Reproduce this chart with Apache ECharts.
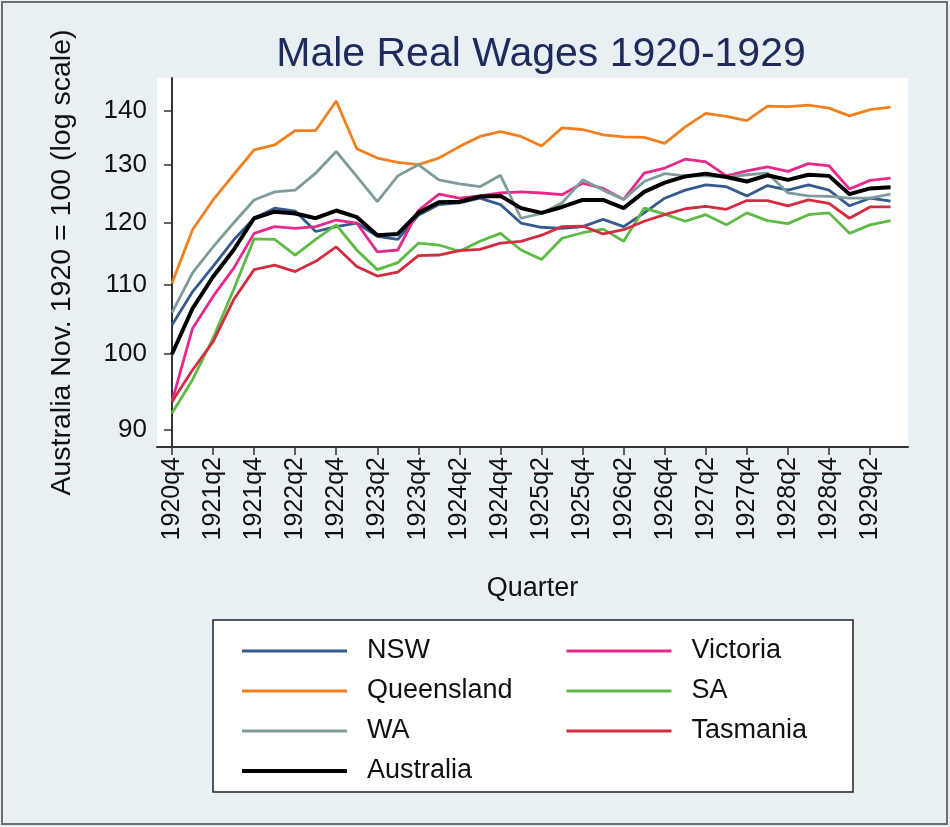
<!DOCTYPE html>
<html>
<head>
<meta charset="utf-8">
<title>Male Real Wages 1920-1929</title>
<script src="https://cdn.jsdelivr.net/npm/echarts@6/dist/echarts.min.js"></script>
<style>
  html, body { margin: 0; padding: 0; background: #e9f0f3; }
  #chart { width: 950px; height: 827px; }
</style>
</head>
<body>
<div id="chart"></div>
<script>
// quarters 1920q4 .. 1929q3
var quarters = ['1920q4',
  '1921q1', '1921q2', '1921q3', '1921q4',
  '1922q1', '1922q2', '1922q3', '1922q4',
  '1923q1', '1923q2', '1923q3', '1923q4',
  '1924q1', '1924q2', '1924q3', '1924q4',
  '1925q1', '1925q2', '1925q3', '1925q4',
  '1926q1', '1926q2', '1926q3', '1926q4',
  '1927q1', '1927q2', '1927q3', '1927q4',
  '1928q1', '1928q2', '1928q3', '1928q4',
  '1929q1', '1929q2', '1929q3'];

// tick labels
var xTickIdx = [0, 2, 4, 6, 8, 10, 12, 14, 16, 18, 20, 22, 24, 26, 28, 30, 32, 34];
var yTicks = [90, 100, 110, 120, 130, 140];

// index numbers, Australia Nov. 1920 = 100
var nsw = [104.1, 109.0, 112.9, 117.1, 120.7, 122.4, 121.9, 118.5, 119.3, 119.9, 117.7, 117.2,
  121.2, 123.0, 123.3, 124.1, 123.0, 119.9, 119.2, 119.0, 119.3, 120.5, 119.3, 121.6,
  124.1, 125.5, 126.4, 126.1, 124.5, 126.3, 125.5, 126.4, 125.5, 122.8, 124.1, 123.6];
var victoria = [93.6, 103.6, 108.3, 112.6, 118.2, 119.3, 119.0, 119.3, 120.4, 119.9, 115.2, 115.5,
  122.0, 124.8, 124.1, 124.5, 125.0, 125.2, 125.0, 124.7, 126.7, 125.8, 123.9, 128.5,
  129.4, 131.0, 130.5, 128.0, 128.9, 129.6, 128.8, 130.2, 129.8, 125.7, 127.2, 127.6];
var queensland = [110.3, 118.8, 123.8, 128.2, 132.7, 133.6, 136.3, 136.3, 142.0, 132.9, 131.2, 130.4,
  130.0, 131.2, 133.3, 135.2, 136.1, 135.2, 133.4, 136.8, 136.5, 135.5, 135.1, 135.0,
  133.9, 137.0, 139.6, 139.0, 138.2, 141.0, 140.9, 141.2, 140.6, 139.1, 140.3, 140.8];
var sa = [92.1, 96.5, 102.2, 109.3, 117.3, 117.2, 114.7, 117.2, 119.6, 115.5, 112.4, 113.5,
  116.6, 116.3, 115.3, 116.9, 118.2, 115.5, 114.0, 117.4, 118.3, 118.9, 116.9, 122.4,
  121.4, 120.2, 121.3, 119.6, 121.6, 120.3, 119.8, 121.3, 121.6, 118.2, 119.6, 120.3];
var wa = [105.9, 111.9, 116.0, 119.9, 123.8, 125.2, 125.5, 128.5, 132.4, 127.9, 123.5, 128.0,
  130.0, 127.3, 126.6, 126.1, 128.1, 120.7, 121.5, 123.3, 127.3, 125.5, 123.9, 127.0,
  128.4, 128.0, 128.0, 127.8, 128.2, 128.5, 125.0, 124.5, 124.4, 124.1, 124.1, 124.8];
var tasmania = [93.6, 97.8, 101.7, 107.8, 112.4, 113.1, 112.1, 113.7, 116.0, 112.9, 111.4, 112.0,
  114.6, 114.7, 115.4, 115.6, 116.6, 116.9, 117.9, 119.3, 119.4, 118.1, 118.8, 120.2,
  121.3, 122.3, 122.7, 122.2, 123.7, 123.7, 122.8, 123.8, 123.2, 120.7, 122.6, 122.6];
var australia = [100.0, 106.5, 111.3, 115.5, 120.7, 121.8, 121.5, 120.7, 122.0, 120.9, 117.9, 118.1,
  121.6, 123.4, 123.5, 124.4, 124.5, 122.4, 121.6, 122.6, 123.8, 123.8, 122.4, 125.2,
  126.8, 127.9, 128.4, 127.8, 127.0, 128.1, 127.3, 128.2, 128.0, 124.8, 125.8, 126.0];

var font = "'Liberation Sans', Arial, sans-serif";

function pairs(vals) {
  return vals.map(function (v, i) { return [i, v]; });
}

function mkSeries(name, vals, color, width) {
  return {
    name: name,
    type: 'line',
    data: pairs(vals),
    symbol: 'none',
    showSymbol: false,
    lineStyle: { color: color, width: width },
    itemStyle: { color: color },
    z: name == 'Australia' ? 5 : 3
  };
}

// legend entries (line width of the key)
function key(name, w) {
  return { name: name, lineStyle: { width: w } };
}

var legendText = { fontFamily: font, fontSize: 27, color: '#111', lineHeight: 30, padding: [0, 0, 0, 15] };

var chart = echarts.init(document.getElementById('chart'), null, { renderer: 'canvas' });

var option = {
  animation: false,
  backgroundColor: '#e9f0f3',
  textStyle: { fontFamily: font },
  title: {
    text: 'Male Real Wages 1920-1929',
    left: 536,
    top: 29,
    textAlign: 'center',
    textStyle: { fontFamily: font, fontSize: 41, fontWeight: 'normal', color: '#1f2a5c' }
  },
  graphic: [
    { // outer frame
      type: 'rect', z: 0,
      shape: { x: 2, y: 2, width: 945, height: 822 },
      style: { fill: null, stroke: '#6d6d6d', lineWidth: 2 }
    },
    { // legend box
      type: 'rect', z: 1,
      shape: { x: 213, y: 620, width: 640, height: 172 },
      style: { fill: '#ffffff', stroke: '#222222', lineWidth: 1.5 }
    }
  ],
  legend: [
    {
      orient: 'vertical',
      left: 240,
      top: 636,
      padding: 0,
      itemWidth: 105,
      itemHeight: 14,
      itemGap: 10,
      itemStyle: { opacity: 0 },
      data: [key('NSW', 3), key('Queensland', 3), key('WA', 3), key('Australia', 4)],
      textStyle: legendText
    },
    {
      orient: 'vertical',
      left: 565,
      top: 636,
      padding: 0,
      itemWidth: 105,
      itemHeight: 14,
      itemGap: 10,
      itemStyle: { opacity: 0 },
      data: [key('Victoria', 3), key('SA', 3), key('Tasmania', 3)],
      textStyle: legendText
    }
  ],
  grid: {
    left: 157,
    right: 42,
    top: 78,
    bottom: 380,
    show: true,
    backgroundColor: '#ffffff',
    borderWidth: 0
  },
  xAxis: {
    type: 'value',
    min: -0.73,
    max: 35.85,
    name: 'Quarter',
    nameLocation: 'middle',
    nameGap: 128,
    nameTextStyle: { fontFamily: font, fontSize: 27, color: '#111' },
    axisLine: { onZero: false, lineStyle: { color: '#333', width: 2 } },
    axisTick: { customValues: xTickIdx, length: 8, lineStyle: { color: '#333', width: 1.5 } },
    axisLabel: {
      customValues: xTickIdx,
      rotate: 90,
      margin: 10,
      fontFamily: font,
      fontSize: 25,
      color: '#111',
      formatter: function (v) { return quarters[Math.round(v)]; }
    },
    splitLine: { show: false }
  },
  yAxis: {
    type: 'log',
    logBase: 10,
    min: 87.9,
    max: 146.6,
    name: 'Australia Nov. 1920 = 100 (log scale)',
    nameLocation: 'middle',
    nameRotate: 90,
    nameGap: 80,
    nameTextStyle: { fontFamily: font, fontSize: 28.5, color: '#111' },
    axisLine: { show: true, lineStyle: { color: '#333', width: 2 } },
    axisTick: { show: true, customValues: yTicks, length: 8, lineStyle: { color: '#333', width: 1.5 } },
    axisLabel: {
      customValues: yTicks,
      margin: 10,
      fontFamily: font,
      fontSize: 26,
      color: '#111'
    },
    splitLine: { show: false },
    minorTick: { show: false },
    minorSplitLine: { show: false }
  },
  series: [
    mkSeries('NSW', nsw, '#355a8e', 2.8),
    mkSeries('Victoria', victoria, '#e8298c', 2.8),
    mkSeries('Queensland', queensland, '#f3801f', 2.8),
    mkSeries('SA', sa, '#5dba45', 2.8),
    mkSeries('WA', wa, '#7f9b9b', 2.8),
    mkSeries('Tasmania', tasmania, '#d32c40', 2.8),
    mkSeries('Australia', australia, '#000000', 4)
  ]
};

chart.setOption(option);
</script>
</body>
</html>
